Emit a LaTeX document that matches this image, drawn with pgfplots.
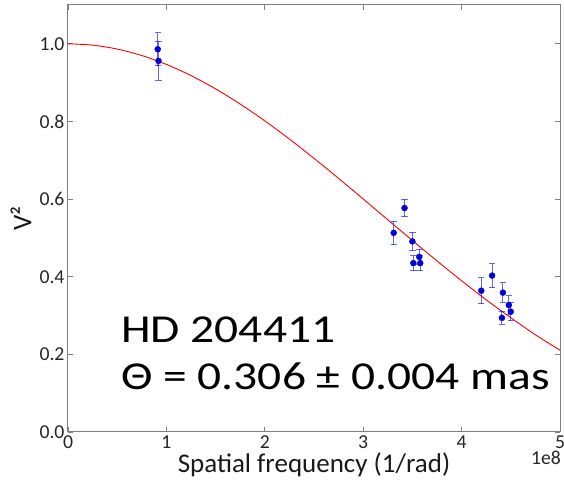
\documentclass[border=0pt]{standalone}
\usepackage{graphicx}
\usepackage{fontspec}
\setmainfont{Carlito}
\usepackage{pgfplots}
\pgfplotsset{compat=1.18}
\usepackage{pgfplotstable}

\pgfplotstableread{
f v
0 1.000000
0.25 0.996611
0.5 0.986500
0.75 0.969842
1 0.946912
1.25 0.918096
1.5 0.883869
1.75 0.844791
2 0.801490
2.25 0.754651
2.5 0.704998
2.75 0.653280
3 0.600251
3.25 0.546660
3.5 0.493230
3.75 0.440647
4 0.389545
4.25 0.340496
4.5 0.294437
4.75 0.250486
5 0.210651
}\modeltable

\pgfplotstableread{
x y e
0.912 0.986 0.042
0.920 0.956 0.050
3.31 0.513 0.030
3.42 0.577 0.022
3.50 0.491 0.024
3.51 0.435 0.019
3.57 0.451 0.020
3.58 0.435 0.019
4.20 0.364 0.034
4.31 0.403 0.031
4.42 0.359 0.025
4.41 0.294 0.017
4.48 0.327 0.024
4.50 0.310 0.024
}\datatable

\begin{document}
\begin{tikzpicture}
\begin{axis}[
  scale only axis,
  width=492pt, height=427pt,
  xmin=0, xmax=5, ymin=0, ymax=1.1,
  xtick={0,1,2,3,4,5},
  ytick={0,0.2,0.4,0.6,0.8,1.0},
  scaled x ticks=false,
  /pgf/number format/assume math mode=true,
  yticklabel style={/pgf/number format/.cd, fixed, fixed zerofill, precision=1},
  xticklabel style={/pgf/number format/.cd, fixed, precision=0},
  tick label style={font=\fontsize{19.7}{22}\selectfont, text=black!85},
  tick align=inside,
  major tick length=5pt,
  axis line style={black!50, line width=1pt},
  every tick/.style={black!50, line width=0.8pt},
  xlabel={Spatial frequency (1/rad)},
  ylabel={V²},
  label style={font=\fontsize{27}{30}\selectfont, text=black!90},
  xlabel style={at={(axis description cs:0.5,-0.096)}, anchor=base},
  ylabel style={at={(axis description cs:-0.0955,0.5)}, anchor=center},
  clip=false,
]
\addplot[red, line width=0.9pt, smooth] table[x=f, y=v] {\modeltable};
\addplot[
  only marks, mark=*, mark size=3pt,
  mark options={draw=blue!85!black, fill=blue!85!black},
  error bars/.cd, y dir=both, y explicit,
  error bar style={blue, opacity=0.6, line width=1pt},
  error mark options={blue, opacity=0.6, line width=1pt, mark size=3.2pt, rotate=90},
] table[x=x, y=y, y error=e] {\datatable};
\end{axis}
\node[anchor=north east, inner sep=0pt, font=\fontsize{19.7}{22}\selectfont, text=black!85] at (493pt,-19pt) {1e8};
\node[anchor=base west, inner sep=0pt, font=\fontsize{39.6}{46}\selectfont] at (53pt,89.3pt) {\scalebox{1.2}[1]{HD 204411}};
\node[anchor=base west, inner sep=0pt, font=\fontsize{39.6}{46}\selectfont] at (53pt,42.7pt) {\scalebox{1.2}[1]{Θ = 0.306 ± 0.004 mas}};
\pgfresetboundingbox
\path[use as bounding box] (-68pt,-49pt) rectangle (496pt,432pt);
\end{tikzpicture}
\end{document}
